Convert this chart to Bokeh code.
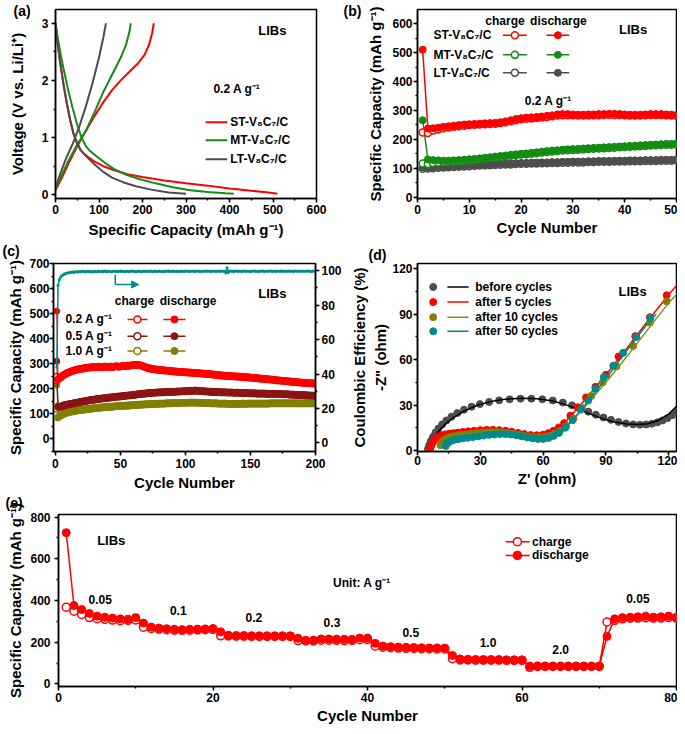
import math
from bokeh.plotting import figure
from bokeh.layouts import column, row
from bokeh.models import (Label, Range1d, LinearAxis, SingleIntervalTicker, FixedTicker,
                          Arrow, NormalHead, Title)
from bokeh.embed import file_html
from bokeh.resources import INLINE

FONT = "Liberation Sans"
RED = "#ff0000"
GREEN = "#148c14"
GREY = "#4d4d4d"
DRED = "#8b1414"
OLIVE = "#808000"
TEAL = "#008b8b"

# ---------------- (a) charge/discharge profiles ----------------
a_st_dis_cap = [0, 4, 10, 18, 26, 34, 42, 50, 58, 65, 75, 90, 110, 135, 165, 200, 250, 300, 350, 400, 450, 490, 510]
a_st_dis_v = [3.0, 2.7, 2.35, 1.95, 1.6, 1.3, 1.05, 0.9, 0.78, 0.72, 0.66, 0.58, 0.5, 0.43, 0.36, 0.31, 0.25, 0.2, 0.16, 0.11, 0.07, 0.04, 0.02]
a_mt_dis_cap = [0, 5, 12, 20, 30, 40, 50, 60, 70, 80, 90, 100, 115, 135, 160, 190, 230, 270, 310, 350, 390, 410]
a_mt_dis_v = [3.0, 2.75, 2.45, 2.15, 1.8, 1.5, 1.22, 1.0, 0.85, 0.76, 0.7, 0.64, 0.55, 0.45, 0.36, 0.28, 0.2, 0.13, 0.08, 0.05, 0.025, 0.02]
a_lt_dis_cap = [0, 4, 10, 18, 26, 34, 42, 50, 58, 65, 75, 90, 110, 130, 155, 185, 220, 260, 300]
a_lt_dis_v = [3.0, 2.7, 2.35, 1.95, 1.6, 1.3, 1.05, 0.9, 0.78, 0.72, 0.64, 0.53, 0.4, 0.3, 0.22, 0.15, 0.09, 0.04, 0.02]
a_st_ch_cap = [0, 15, 30, 50, 70, 90, 110, 130, 150, 170, 190, 205, 215, 222, 226]
a_st_ch_v = [0.08, 0.3, 0.55, 0.85, 1.12, 1.38, 1.62, 1.83, 2.0, 2.15, 2.3, 2.45, 2.62, 2.82, 3.0]
a_mt_ch_cap = [0, 15, 30, 50, 70, 90, 110, 130, 150, 162, 170, 173]
a_mt_ch_v = [0.1, 0.35, 0.6, 0.88, 1.12, 1.45, 1.8, 2.1, 2.4, 2.62, 2.85, 3.0]
a_lt_ch_cap = [0, 10, 25, 40, 55, 70, 85, 100, 110, 116]
a_lt_ch_v = [0.12, 0.35, 0.65, 0.9, 1.2, 1.55, 1.95, 2.4, 2.75, 3.0]
a_names = ["ST-V₈C₇/C", "MT-V₈C₇/C", "LT-V₈C₇/C"]

# ---------------- (b) cycling at 0.2 A/g ----------------
b_cycles = list(range(1, 51))
b_st_dis = [510, 237, 238, 240, 243, 245, 247, 249, 251, 252,
            253, 254, 255, 256, 257, 259, 262, 266, 270, 273,
            275, 276, 277, 279, 281, 283, 286, 287, 287, 286,
            285, 285, 286, 286, 287, 287, 288, 288, 287, 286,
            285, 285, 285, 286, 287, 287, 287, 286, 285, 284]
b_st_ch = [223, 222, 230, 234, 238, 241, 243, 245, 247, 249,
           250, 251, 252, 253, 254, 256, 259, 262, 266, 269,
           271, 272, 274, 275, 277, 280, 282, 283, 283, 283,
           282, 282, 282, 283, 283, 284, 285, 284, 284, 283,
           282, 282, 282, 283, 284, 284, 284, 283, 282, 281]
b_mt_dis = [266, 130, 128, 127, 126, 126, 127, 128, 129, 131,
            132, 134, 136, 138, 140, 142, 144, 146, 148, 150,
            151, 153, 155, 157, 159, 161, 162, 164, 165, 166,
            167, 168, 169, 170, 171, 172, 173, 174, 175, 176,
            177, 178, 179, 180, 181, 182, 183, 184, 184, 185]
b_mt_ch = [116, 114, 118, 120, 121, 122, 123, 124, 126, 127,
           129, 131, 133, 135, 137, 139, 141, 143, 145, 147,
           148, 150, 152, 154, 156, 158, 159, 161, 162, 163,
           164, 165, 166, 167, 168, 169, 170, 171, 172, 173,
           174, 175, 176, 177, 178, 179, 180, 181, 181, 182]
b_lt_dis = [103, 102, 103, 104, 105, 106, 107, 108, 109, 110,
            111, 112, 113, 113, 114, 115, 116, 116, 117, 118,
            118, 119, 119, 120, 120, 121, 121, 122, 122, 123,
            123, 123, 124, 124, 125, 125, 125, 126, 126, 126,
            127, 127, 127, 128, 128, 128, 129, 129, 129, 130]
b_lt_ch = [98, 99, 100, 101, 102, 103, 104, 105, 106, 107,
           108, 109, 110, 110, 111, 112, 113, 113, 114, 115,
           115, 116, 116, 117, 117, 118, 118, 119, 119, 120,
           120, 120, 121, 121, 122, 122, 122, 123, 123, 123,
           124, 124, 124, 125, 125, 125, 126, 126, 126, 127]

# ---------------- (c) long cycling ----------------
c_cycles = list(range(1, 201))
c_dis02 = [510, 240, 244, 248, 252, 256, 259, 262, 265, 267,
           269, 271, 273, 275, 276, 278, 279, 280, 281, 282,
           283, 284, 285, 286, 286, 287, 288, 288, 289, 289,
           288, 289, 290, 289, 288, 289, 290, 291, 290, 289,
           290, 291, 290, 289, 290, 291, 292, 291, 290, 291,
           292, 293, 292, 293, 294, 295, 294, 295, 296, 297,
           296, 297, 298, 297, 296, 295, 293, 291, 289, 287,
           285, 284, 283, 282, 281, 280, 279, 279, 278, 277,
           277, 276, 276, 275, 275, 274, 274, 273, 273, 272,
           272, 271, 271, 270, 270, 270, 269, 269, 268, 268,
           268, 267, 267, 267, 266, 266, 265, 265, 265, 264,
           264, 263, 263, 262, 262, 262, 261, 261, 260, 260,
           259, 259, 258, 258, 257, 256, 256, 255, 255, 254,
           254, 254, 253, 253, 253, 252, 252, 252, 251, 251,
           251, 250, 250, 250, 249, 249, 248, 248, 247, 247,
           246, 246, 245, 245, 244, 244, 243, 243, 242, 242,
           241, 241, 240, 240, 239, 239, 238, 237, 237, 236,
           236, 235, 235, 234, 234, 233, 233, 232, 232, 231,
           231, 230, 230, 229, 229, 228, 228, 227, 227, 226,
           226, 226, 225, 225, 225, 224, 224, 224, 223, 223]
c_ch02 = [232, 236, 240, 245, 249, 253, 256, 259, 262, 264,
          266, 268, 270, 272, 273, 275, 276, 277, 278, 279,
          280, 281, 282, 283, 283, 284, 285, 285, 286, 286,
          285, 286, 287, 286, 285, 286, 287, 288, 287, 286,
          287, 288, 287, 286, 287, 288, 289, 288, 287, 288,
          289, 290, 289, 290, 291, 292, 291, 292, 293, 294,
          293, 294, 295, 294, 293, 292, 290, 288, 286, 284,
          282, 281, 280, 279, 278, 277, 276, 276, 275, 274,
          274, 273, 273, 272, 272, 271, 271, 270, 270, 269,
          269, 268, 268, 267, 267, 267, 266, 266, 265, 265,
          265, 264, 264, 264, 263, 263, 262, 262, 262, 261,
          261, 260, 260, 259, 259, 259, 258, 258, 257, 257,
          256, 256, 255, 255, 254, 253, 253, 252, 252, 251,
          251, 251, 250, 250, 250, 249, 249, 249, 248, 248,
          248, 247, 247, 247, 246, 246, 245, 245, 244, 244,
          243, 243, 242, 242, 241, 241, 240, 240, 239, 239,
          238, 238, 237, 237, 236, 236, 235, 234, 234, 233,
          233, 232, 232, 231, 231, 230, 230, 229, 229, 228,
          228, 227, 227, 226, 226, 225, 225, 224, 224, 223,
          223, 223, 222, 222, 222, 221, 221, 221, 220, 220]
c_dis05 = [310, 132, 130, 131, 133, 135, 137, 138, 139, 140,
           141, 142, 143, 144, 145, 146, 147, 148, 149, 150,
           151, 152, 153, 154, 155, 156, 157, 158, 158, 159,
           160, 161, 161, 162, 163, 163, 164, 165, 165, 166,
           167, 167, 168, 168, 169, 170, 170, 171, 171, 172,
           172, 173, 173, 174, 175, 175, 176, 176, 177, 178,
           178, 179, 180, 180, 181, 182, 182, 183, 183, 184,
           184, 185, 185, 186, 186, 186, 187, 187, 187, 188,
           188, 188, 188, 189, 189, 189, 189, 190, 190, 190,
           190, 190, 191, 191, 191, 191, 192, 192, 192, 192,
           193, 193, 193, 194, 194, 194, 195, 195, 194, 194,
           193, 193, 192, 192, 192, 191, 191, 191, 190, 190,
           190, 190, 189, 189, 189, 189, 188, 188, 188, 188,
           188, 187, 187, 187, 187, 187, 186, 186, 186, 186,
           186, 186, 185, 185, 185, 185, 185, 185, 184, 184,
           184, 184, 184, 184, 183, 183, 183, 183, 183, 183,
           183, 182, 182, 182, 182, 182, 182, 182, 181, 181,
           181, 181, 181, 181, 180, 180, 180, 180, 180, 179,
           179, 179, 179, 178, 178, 178, 178, 177, 177, 177,
           177, 176, 176, 176, 175, 175, 175, 175, 174, 174]
c_ch05 = [250, 128, 127, 128, 130, 132, 134, 135, 136, 137,
          138, 139, 140, 141, 142, 143, 144, 145, 146, 147,
          148, 149, 150, 151, 152, 153, 154, 155, 155, 156,
          157, 158, 158, 159, 160, 160, 161, 162, 162, 163,
          164, 164, 165, 165, 166, 167, 167, 168, 168, 169,
          169, 170, 170, 171, 172, 172, 173, 173, 174, 175,
          175, 176, 177, 177, 178, 179, 179, 180, 180, 181,
          181, 182, 182, 183, 183, 183, 184, 184, 184, 185,
          185, 185, 185, 186, 186, 186, 186, 187, 187, 187,
          187, 187, 188, 188, 188, 188, 189, 189, 189, 189,
          190, 190, 190, 191, 191, 191, 192, 192, 191, 191,
          190, 190, 189, 189, 189, 188, 188, 188, 187, 187,
          187, 187, 186, 186, 186, 186, 185, 185, 185, 185,
          185, 184, 184, 184, 184, 184, 183, 183, 183, 183,
          183, 183, 182, 182, 182, 182, 182, 182, 181, 181,
          181, 181, 181, 181, 180, 180, 180, 180, 180, 180,
          180, 179, 179, 179, 179, 179, 179, 179, 178, 178,
          178, 178, 178, 178, 177, 177, 177, 177, 177, 176,
          176, 176, 176, 175, 175, 175, 175, 174, 174, 174,
          174, 173, 173, 173, 172, 172, 172, 172, 171, 171]
c_dis10 = [215, 88, 92, 96, 99, 102, 104, 106, 108, 109,
           110, 111, 112, 113, 114, 115, 116, 117, 117, 118,
           119, 120, 120, 121, 122, 122, 123, 124, 124, 125,
           125, 126, 126, 127, 127, 128, 128, 129, 129, 130,
           130, 131, 131, 131, 132, 132, 133, 133, 133, 134,
           134, 134, 135, 135, 135, 136, 136, 136, 137, 137,
           137, 138, 138, 138, 139, 139, 139, 140, 140, 140,
           140, 141, 141, 141, 141, 142, 142, 142, 142, 143,
           143, 143, 143, 143, 144, 144, 144, 144, 144, 145,
           145, 145, 145, 145, 145, 146, 146, 146, 146, 146,
           146, 146, 147, 147, 147, 147, 147, 147, 146, 146,
           146, 146, 146, 145, 145, 145, 145, 145, 144, 144,
           144, 144, 144, 144, 143, 143, 143, 143, 143, 143,
           143, 142, 142, 142, 142, 142, 142, 142, 142, 142,
           142, 142, 142, 143, 143, 142, 142, 143, 143, 143,
           143, 143, 143, 143, 143, 143, 143, 143, 143, 143,
           143, 143, 143, 143, 144, 144, 144, 144, 144, 144,
           144, 144, 144, 144, 144, 144, 144, 144, 144, 144,
           144, 144, 144, 144, 144, 144, 144, 144, 144, 144,
           144, 144, 144, 144, 144, 144, 144, 144, 144, 144]
c_ch10 = [120, 85, 89, 93, 96, 99, 101, 103, 105, 106,
          107, 108, 109, 110, 111, 112, 113, 114, 114, 115,
          116, 117, 117, 118, 119, 119, 120, 121, 121, 122,
          122, 123, 123, 124, 124, 125, 125, 126, 126, 127,
          127, 128, 128, 128, 129, 129, 130, 130, 130, 131,
          131, 131, 132, 132, 132, 133, 133, 133, 134, 134,
          134, 135, 135, 135, 136, 136, 136, 137, 137, 137,
          137, 138, 138, 138, 138, 139, 139, 139, 139, 140,
          140, 140, 140, 140, 141, 141, 141, 141, 141, 142,
          142, 142, 142, 142, 142, 143, 143, 143, 143, 143,
          143, 143, 144, 144, 144, 144, 144, 144, 143, 143,
          143, 143, 143, 142, 142, 142, 142, 142, 141, 141,
          141, 141, 141, 141, 140, 140, 140, 140, 140, 140,
          140, 139, 139, 139, 139, 139, 139, 139, 139, 139,
          139, 139, 139, 140, 140, 139, 139, 140, 140, 140,
          140, 140, 140, 140, 140, 140, 140, 140, 140, 140,
          140, 140, 140, 140, 141, 141, 141, 141, 141, 141,
          141, 141, 141, 141, 141, 141, 141, 141, 141, 141,
          141, 141, 141, 141, 141, 141, 141, 141, 141, 141,
          141, 141, 141, 141, 141, 141, 141, 141, 141, 141]
c_ce = [44.0, 91.5, 94.8, 96.3, 97.1, 97.7, 98.1, 98.4, 98.6, 98.8,
        98.9, 99.1, 99.2, 99.0, 99.3, 99.4, 99.2, 99.5, 99.3, 99.6,
        99.4, 99.7, 99.3, 99.5, 99.8, 99.4, 99.6, 99.2, 99.5, 99.7,
        99.5, 99.3, 99.8, 99.6, 99.4, 99.7, 99.5, 99.9, 99.4, 99.6,
        99.7, 99.5, 99.3, 99.6, 99.8, 99.5, 99.7, 99.4, 99.6, 99.9,
        99.5, 99.7, 99.6, 99.4, 99.8, 99.6, 99.5, 99.7, 99.9, 99.6,
        99.4, 99.7, 99.5, 99.8, 99.6, 99.3, 99.7, 99.5, 99.8, 99.6,
        99.7, 99.5, 99.9, 99.6, 99.4, 99.7, 99.8, 99.5, 99.6, 99.8,
        99.6, 99.4, 99.7, 99.5, 99.8, 99.6, 99.9, 99.5, 99.7, 99.6,
        99.8, 99.5, 99.7, 99.6, 99.4, 99.8, 99.6, 99.7, 99.5, 99.9,
        99.6, 99.8, 99.5, 99.7, 99.6, 99.9, 99.5, 99.7, 99.8, 99.6,
        99.7, 99.5, 99.8, 99.6, 99.7, 99.9, 99.6, 99.8, 99.5, 99.7,
        99.6, 99.8, 99.7, 99.5, 99.9, 99.6, 99.7, 99.8, 99.6, 99.7,
        98.6, 101.8, 98.9, 99.9, 99.6, 99.8, 99.5, 99.7, 99.9, 99.6,
        99.8, 99.6, 99.7, 99.5, 99.9, 99.7, 99.6, 99.8, 99.5, 99.7,
        99.6, 99.8, 99.9, 99.6, 99.7, 99.5, 99.8, 99.6, 99.9, 99.7,
        99.5, 99.7, 99.8, 99.6, 99.9, 99.7, 99.5, 99.8, 99.6, 99.7,
        99.8, 99.6, 99.7, 99.9, 99.5, 99.7, 99.8, 99.6, 99.7, 99.9,
        99.6, 99.8, 99.5, 99.7, 99.9, 99.6, 99.8, 99.7, 99.5, 99.8,
        99.7, 99.6, 99.8, 99.9, 99.6, 99.7, 99.5, 99.8, 99.6, 99.7]
c_rates = ["0.2 A g⁻¹", "0.5 A g⁻¹", "1.0 A g⁻¹"]

# ---------------- (d) Nyquist plots ----------------
d_before_x = [5.0, 5.6, 6.4, 7.4, 8.6, 10.0, 11.8, 13.8, 16.2, 19.0, 22.2, 25.8, 29.8, 34.2, 39.0, 44.0, 49.2, 54.4, 59.6,
              64.6, 69.4, 73.8, 77.8, 81.6, 85.2, 88.8, 92.4, 96.0, 99.6, 103.0, 106.2, 109.2, 112.0, 114.6, 117.0, 119.4, 121.6, 123.8]
d_before_y = [1.0, 3.5, 6.2, 9.0, 11.8, 14.5, 17.2, 19.8, 22.3, 24.7, 26.9, 28.9, 30.6, 32.0, 33.1, 33.8, 34.2, 34.2, 33.8,
              33.0, 31.6, 29.8, 27.7, 25.6, 23.6, 21.8, 20.2, 18.8, 17.8, 17.2, 17.0, 17.2, 17.7, 18.6, 19.8, 21.4, 23.3, 25.5]
d_before_fit_x = [5, 6, 8, 10, 13, 17, 22, 28, 35, 42, 50, 57, 64, 70, 76, 82, 88, 94, 100, 105, 110, 115, 120, 125]
d_before_fit_y = [0, 3.5, 8.5, 12.5, 17, 21.5, 25.8, 29.5, 32.4, 33.9, 34.4, 34.1, 32.8, 30.6, 27.6, 24.3, 21.2, 18.8, 17.4, 17.1, 17.6, 19.8, 24.0, 31.0]
d_c5_x = [6.0, 6.5, 7.2, 8.0, 9.0, 10.2, 11.6, 13.2, 15.0, 17.0, 19.2, 21.6, 24.2, 27.0, 30.0, 33.0, 36.0, 39.0, 42.0,
          45.0, 48.0, 51.0, 54.0, 57.0, 60.0, 62.5, 65.0, 67.5, 70.0, 73.0, 76.5, 80.5, 85.0, 90.0, 96.0, 104.0, 111.0, 119.0]
d_c5_y = [1.0, 3.0, 5.0, 6.8, 8.2, 9.2, 10.0, 10.6, 11.0, 11.4, 11.8, 12.2, 12.6, 13.0, 13.4, 13.6, 13.6, 13.4, 13.0,
          12.4, 11.6, 10.8, 10.2, 10.0, 10.4, 11.4, 13.0, 15.2, 18.0, 23.0, 28.5, 35.0, 42.0, 50.0, 62.0, 75.5, 88.0, 102.5]
d_c5_fit_x = [6, 10, 15, 20, 25, 30, 35, 40, 45, 50, 55, 60, 65, 70, 75, 80, 90, 100, 110, 120, 125]
d_c5_fit_y = [0, 9, 11, 12, 12.8, 13.4, 13.7, 13.5, 12.5, 11, 10, 10.3, 13, 18, 25.5, 33.5, 50, 67.5, 85.5, 103, 111]
d_c10_x = [11.0, 11.8, 12.8, 14.0, 15.5, 17.2, 19.0, 21.0, 23.2, 25.5, 28.0, 30.5, 33.0, 35.5, 38.0, 40.5, 43.0, 45.5,
           48.0, 50.5, 53.0, 55.5, 58.0, 60.5, 63.0, 65.5, 68.0, 71.0, 74.5, 78.5, 83.0, 88.5, 95.0, 103.0, 111.0, 119.0]
d_c10_y = [3.5, 5.5, 7.0, 8.0, 8.8, 9.4, 9.8, 10.2, 10.6, 11.0, 11.4, 11.8, 12.0, 12.2, 12.2, 12.0, 11.6, 11.0,
           10.4, 9.8, 9.2, 8.8, 8.6, 8.8, 9.6, 11.0, 13.0, 16.0, 21.0, 28.0, 36.0, 45.0, 55.5, 69.0, 84.5, 98.5]
d_c10_fit_x = [11, 15, 20, 25, 30, 35, 40, 45, 50, 55, 60, 65, 70, 75, 80, 90, 100, 110, 120, 125]
d_c10_fit_y = [2, 8.5, 10, 11, 11.7, 12.2, 12.1, 11.2, 10, 9, 8.8, 10.5, 15, 21.5, 29, 45, 62, 80, 97.5, 105]
d_c50_x = [13.5, 14.2, 15.2, 16.5, 18.0, 19.8, 21.8, 24.0, 26.4, 29.0, 31.6, 34.2, 36.8, 39.4, 42.0, 44.6, 47.2,
           49.8, 52.4, 55.0, 57.5, 60.0, 62.5, 65.0, 67.5, 70.5, 74.0, 78.0, 81.5, 85.0, 89.0, 93.5, 98.2, 104.5, 111.2]
d_c50_y = [3.0, 4.6, 5.8, 6.6, 7.2, 7.6, 8.0, 8.4, 8.8, 9.3, 9.8, 10.3, 10.6, 10.8, 10.8, 10.5, 10.0,
           9.3, 8.6, 8.0, 7.6, 7.6, 8.2, 9.6, 11.6, 15.0, 20.0, 27.0, 33.0, 41.0, 48.5, 56.0, 64.5, 75.0, 87.5]
d_c50_fit_x = [13, 16, 20, 25, 30, 35, 40, 45, 50, 55, 60, 65, 70, 75, 80, 90, 100, 110, 114]
d_c50_fit_y = [2, 6.5, 7.8, 8.6, 9.4, 10.3, 10.8, 10.5, 9.2, 7.9, 7.6, 9.6, 14.5, 21.5, 30, 47.5, 66, 84, 90]
d_names = ["before cycles", "after 5 cycles", "after 10 cycles", "after 50 cycles"]

# ---------------- (e) rate capability ----------------
e_cycles = list(range(1, 81))
e_dis = [725, 376, 357, 338, 325, 320, 316, 312, 310, 318,
         292, 273, 268, 265, 262, 260, 262, 263, 264, 266,
         250, 233, 232, 232, 231, 231, 231, 231, 231, 231,
         219, 210, 210, 216, 216, 215, 214, 214, 220, 220,
         195, 182, 179, 177, 176, 175, 174, 173, 173, 172,
         137, 120, 118, 117, 117, 117, 117, 116, 116, 116,
         86, 86, 86, 86, 86, 86, 86, 86, 86, 86,
         228, 312, 318, 320, 322, 325, 320, 322, 325, 320]
e_ch = [368, 349, 333, 318, 313, 310, 306, 303, 305, 307,
        272, 266, 263, 260, 258, 257, 258, 259, 260, 261,
        231, 230, 229, 229, 228, 228, 228, 228, 228, 228,
        208, 206, 206, 210, 210, 209, 208, 209, 212, 213,
        181, 176, 174, 172, 171, 170, 169, 169, 168, 168,
        121, 115, 115, 114, 114, 114, 114, 113, 113, 113,
        80, 84, 84, 84, 84, 84, 84, 84, 84, 84,
        297, 305, 312, 315, 316, 317, 315, 316, 318, 316]
e_rate_labels = ["0.05", "0.1", "0.2", "0.3", "0.5", "1.0", "2.0", "0.05"]


def make_fig(w, h, xr, yr, bl, br, bt, bb):
    p = figure(width=w, height=h, x_range=Range1d(*xr), y_range=Range1d(*yr),
               output_backend="svg", toolbar_location=None,
               min_border_left=bl, min_border_right=br, min_border_top=bt, min_border_bottom=bb)
    p.xgrid.visible = False
    p.ygrid.visible = False
    p.outline_line_color = "black"
    p.outline_line_width = 1.5
    p.outline_line_alpha = 1.0
    p.background_fill_color = "white"
    p.border_fill_color = "white"
    return p


def style_axis(ax, interval, label, tick_standoff, label_standoff):
    ax.ticker = SingleIntervalTicker(interval=interval, num_minor_ticks=2)
    ax.axis_label = label
    ax.axis_line_width = 1.5
    ax.axis_line_color = "black"
    ax.major_tick_line_width = 1.5
    ax.minor_tick_line_width = 1.5
    ax.major_tick_line_color = "black"
    ax.minor_tick_line_color = "black"
    ax.major_tick_out = 4
    ax.major_tick_in = 0
    ax.minor_tick_out = 2
    ax.minor_tick_in = 0
    ax.major_label_text_font = FONT
    ax.major_label_text_font_style = "bold"
    ax.major_label_text_font_size = "12px"
    ax.major_label_text_color = "black"
    ax.major_label_standoff = tick_standoff
    ax.axis_label_text_font = FONT
    ax.axis_label_text_font_style = "bold"
    ax.axis_label_text_font_size = "15px"
    ax.axis_label_text_color = "black"
    ax.axis_label_standoff = label_standoff


def lab(p, x, y, text, size="12px", align="left", color="black", bold=True, yname="default"):
    p.add_layout(Label(x=x, y=y, text=text, text_font=FONT, text_font_size=size,
                       text_font_style="bold" if bold else "normal", text_align=align,
                       text_baseline="middle", text_color=color, y_range_name=yname))


def panel_tag(p, text, offset, valign, standoff):
    p.add_layout(Title(text=text, align="left", offset=offset, vertical_align=valign, standoff=standoff,
                       text_font=FONT, text_font_style="bold", text_font_size="14px",
                       text_color="black"), "above")


# ======== (a) ========
pa = make_fig(340, 240, (0, 600), (-0.065, 3.24), 55, 24, 9, 42)
style_axis(pa.xaxis[0], 100, "Specific Capacity (mAh g⁻¹)", 2, 4)
style_axis(pa.yaxis[0], 1, "Voltage (V vs. Li/Li⁺)", 3, 13)
pa.line(a_st_dis_cap, a_st_dis_v, color=RED, line_width=2)
pa.line(a_st_ch_cap, a_st_ch_v, color=RED, line_width=2)
pa.line(a_mt_dis_cap, a_mt_dis_v, color=GREEN, line_width=2)
pa.line(a_mt_ch_cap, a_mt_ch_v, color=GREEN, line_width=2)
pa.line(a_lt_dis_cap, a_lt_dis_v, color=GREY, line_width=2)
pa.line(a_lt_ch_cap, a_lt_ch_v, color=GREY, line_width=2)
for name, col, yy in zip(a_names, [RED, GREEN, GREY], [1.27, 0.954, 0.62]):
    pa.line([345, 395], [yy, yy], color=col, line_width=2)
    lab(pa, 402, yy, name)
lab(pa, 466, 2.87, "LIBs", size="13px")
lab(pa, 363, 1.85, "0.2 A g⁻¹")
panel_tag(pa, "(a)", -42, "bottom", -18)

# ======== (b) ========
pb = make_fig(337, 240, (0, 50), (-5, 649), 77, 1, 9, 42)
style_axis(pb.xaxis[0], 10, "Cycle Number", 2, 2)
style_axis(pb.yaxis[0], 100, "Specific Capacity (mAh g⁻¹)", 1, 5)
for ch, dis, col in [(b_lt_ch, b_lt_dis, GREY), (b_mt_ch, b_mt_dis, GREEN), (b_st_ch, b_st_dis, RED)]:
    pb.line(b_cycles, ch, color=col, line_width=1.5)
    pb.scatter(b_cycles, ch, marker="circle", size=7, fill_color="white", line_color=col, line_width=1.5)
    pb.line(b_cycles, dis, color=col, line_width=1.5)
    pb.scatter(b_cycles, dis, marker="circle", size=7, fill_color=col, line_color=col, line_width=1)
lab(pb, 16.9, 608, "charge", align="center")
lab(pb, 27.2, 608, "discharge", align="center")
for name, col, yy in zip(a_names, [RED, GREEN, GREY], [560, 492, 430]):
    lab(pb, 3.1, yy, name)
    pb.line([16.5, 21.1], [yy, yy], color=col, line_width=1.5)
    pb.scatter([18.8], [yy], marker="circle", size=7, fill_color="white", line_color=col, line_width=1.5)
    pb.line([24.9, 29.3], [yy, yy], color=col, line_width=1.5)
    pb.scatter([27.1], [yy], marker="circle", size=7, fill_color=col, line_color=col)
lab(pb, 38.9, 581, "LIBs", size="13px")
lab(pb, 20.7, 332, "0.2 A g⁻¹")
panel_tag(pb, "(b)", -74, "bottom", -18)

# ======== (c) ========
pc = make_fig(345, 253, (-1.5, 200), (-50, 700), 53, 30, 23, 42)
pc.extra_y_ranges = {"ce": Range1d(-5, 104.2)}
style_axis(pc.xaxis[0], 50, "Cycle Number", 3, 3)
style_axis(pc.yaxis[0], 100, "Specific Capacity (mAh g⁻¹)", 0, 2)
ax_r = LinearAxis(y_range_name="ce")
style_axis(ax_r, 20, None, 2, 0)
pc.add_layout(ax_r, "right")
for ch, dis, col in [(c_ch10, c_dis10, OLIVE), (c_ch05, c_dis05, DRED), (c_ch02, c_dis02, RED)]:
    pc.line(c_cycles, ch, color=col, line_width=1)
    pc.scatter(c_cycles, ch, marker="circle", size=6, fill_color="white", line_color=col, line_width=1.2)
    pc.line(c_cycles, dis, color=col, line_width=1)
    pc.scatter(c_cycles, dis, marker="circle", size=6, fill_color=col, line_color=col)
pc.line(c_cycles, c_ce, color=TEAL, line_width=1.5, y_range_name="ce")
pc.scatter(c_cycles, c_ce, marker="asterisk", size=3, line_color=TEAL, y_range_name="ce")
pc.line([46, 46], [97.6, 92], color=TEAL, line_width=1.5, y_range_name="ce")
pc.add_layout(Arrow(x_start=46, y_start=92, x_end=64, y_end=92, line_color=TEAL, line_width=1.5,
                    end=NormalHead(size=7, fill_color=TEAL, line_color=TEAL), y_range_name="ce"))
lab(pc, 60.8, 549, "charge", align="center")
lab(pc, 102, 549, "discharge", align="center")
for name, col, yy in zip(c_rates, [RED, DRED, OLIVE], [477, 410, 351]):
    lab(pc, 7.7, yy, name)
    pc.line([55.4, 70.8], [yy, yy], color=col, line_width=1.5)
    pc.scatter([63], [yy], marker="circle", size=7, fill_color="white", line_color=col, line_width=1.5)
    pc.line([83, 100], [yy, yy], color=col, line_width=1.5)
    pc.scatter([91.5], [yy], marker="circle", size=7, fill_color=col, line_color=col)
lab(pc, 156, 580, "LIBs", size="13px")
panel_tag(pc, "(c)", -51, "top", 5)

# ======== (d) ========
pd_ = make_fig(332, 253, (0, 123.7), (-0.7, 123.5), 72, 1, 23, 42)
style_axis(pd_.xaxis[0], 30, "Z' (ohm)", 0, 2)
style_axis(pd_.yaxis[0], 30, '-Z" (ohm)', 1, 0)
ce_ax = LinearAxis(ticker=FixedTicker(ticks=[]), axis_label="Coulombic Efficiency (%)")
ce_ax.axis_line_alpha = 0
ce_ax.major_tick_out = 0
ce_ax.minor_tick_out = 0
ce_ax.major_label_standoff = 0
ce_ax.axis_label_standoff = 2
ce_ax.axis_label_text_font = FONT
ce_ax.axis_label_text_font_style = "bold"
ce_ax.axis_label_text_font_size = "15px"
ce_ax.axis_label_text_color = "black"
pd_.add_layout(ce_ax, "left")
d_sets = [(d_before_x, d_before_y, d_before_fit_x, d_before_fit_y, GREY, "black"),
          (d_c5_x, d_c5_y, d_c5_fit_x, d_c5_fit_y, RED, RED),
          (d_c10_x, d_c10_y, d_c10_fit_x, d_c10_fit_y, OLIVE, "#8c8c1a"),
          (d_c50_x, d_c50_y, d_c50_fit_x, d_c50_fit_y, TEAL, TEAL)]
for xs, ys, fx, fy, mc, lc in d_sets:
    pd_.scatter(xs, ys, marker="circle", size=7, fill_color=mc, line_color=mc)
    pd_.line(fx, fy, color=lc, line_width=1.5)
for (xs, ys, fx, fy, mc, lc), name, yy in zip(d_sets, d_names, [108, 98, 88, 78.7]):
    pd_.scatter([7.5], [yy], marker="circle", size=7, fill_color=mc, line_color=mc)
    pd_.line([14.3, 24.4], [yy, yy], color=lc, line_width=1.5)
    lab(pd_, 27.6, yy, name)
lab(pd_, 96, 105, "LIBs", size="13px")
panel_tag(pd_, "(d)", -49, "top", -2)

# ======== (e) ========
pe = make_fig(677, 233, (0, 80), (-12, 812), 58, 1, 21, 40)
style_axis(pe.xaxis[0], 20, "Cycle Number", 2, 2)
style_axis(pe.yaxis[0], 200, "Specific Capacity (mAh g⁻¹)", 4, 3)
pe.line(e_cycles, e_ch, color=RED, line_width=1.5)
pe.scatter(e_cycles, e_ch, marker="circle", size=8, fill_color="white", line_color=RED, line_width=1.5)
pe.line(e_cycles, e_dis, color=RED, line_width=1.5)
pe.scatter(e_cycles, e_dis, marker="circle", size=8, fill_color=RED, line_color=RED)
for txt, xx, yy in zip(e_rate_labels, [5.4, 15.5, 25.3, 35.4, 45.6, 55.6, 65.0, 75.0],
                       [404, 352, 319, 296, 248, 201, 164, 409]):
    lab(pe, xx, yy, txt, align="center")
lab(pe, 39.3, 484, "Unit: A g⁻¹", align="center")
lab(pe, 5.0, 687, "LIBs", size="13px")
for name, fill, yy in [("charge", "white", 682), ("discharge", RED, 616)]:
    pe.line([57.9, 61.0], [yy, yy], color=RED, line_width=1.5)
    pe.scatter([59.4], [yy], marker="circle", size=8, fill_color=fill, line_color=RED, line_width=1.5)
    lab(pe, 61.3, yy, name)
panel_tag(pe, "(e)", -53, "top", 3)

layout = column(row(pa, pb), row(pc, pd_), pe)
open("out.html", "w").write(file_html(layout, INLINE))
